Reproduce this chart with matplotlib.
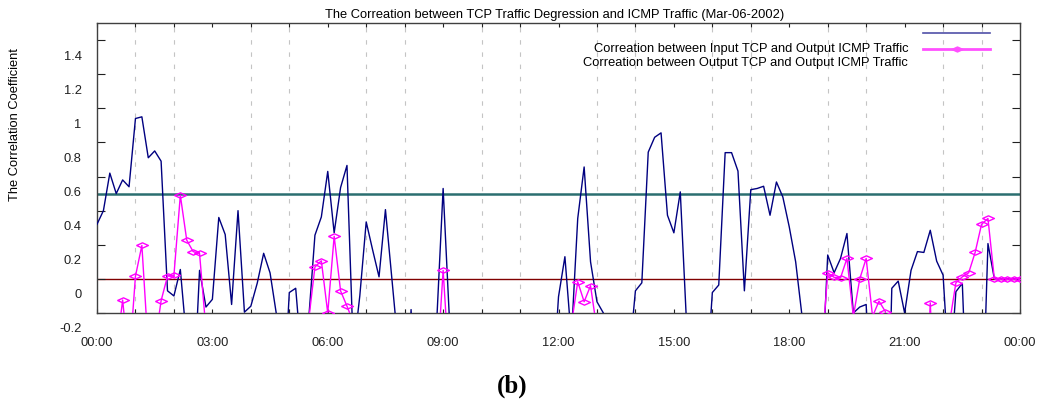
import numpy as np
import matplotlib
matplotlib.use("Agg")
import matplotlib.pyplot as plt
from matplotlib.ticker import MultipleLocator, FixedLocator
from matplotlib.transforms import ScaledTranslation

# 10-minute samples over one day (index * 10 min); values below -0.2 fall off the plot
input_tcp_icmp = [
    0.32, 0.40, 0.62, 0.50, 0.58, 0.54, 0.94, 0.95, 0.71, 0.75,
    0.69, -0.07, -0.10, 0.055, -0.37, -0.74, 0.05, -0.165, -0.12, 0.36,
    0.26, -0.15, 0.40, -0.195, -0.16, -0.025, 0.15, 0.035, -0.21, -0.79,
    -0.08, -0.055, -0.51, -0.25, 0.256, 0.363, 0.63, 0.27, 0.535, 0.665,
    -0.43, -0.10, 0.334, 0.17, 0.012, 0.406, 0.0, -0.4, -1.0, -0.18,
    -1.0, -1.0, -1.0, -0.25, 0.53, -0.25, -1.0, -1.0, -1.0, -1.0,
    -1.0, -1.0, -1.0, -1.0, -1.0, -1.0, -1.0, -1.0, -1.0, -1.0,
    -1.0, -0.70, -0.105, 0.13, -0.35, 0.354, 0.656, 0.10, -0.134, -0.2,
    -0.6, -1.0, -1.0, -0.475, -0.07, -0.023, 0.743, 0.83, 0.856, 0.373,
    0.27, 0.51, -0.28, -1.0, -1.0, -0.65, -0.08, -0.036, 0.74, 0.74,
    0.632, -0.07, 0.523, 0.53, 0.543, 0.373, 0.568, 0.48, 0.305, 0.10,
    -0.22, -1.0, -1.0, -0.67, 0.14, 0.036, 0.12, 0.266, -0.2, -0.165,
    -0.15, -1.0, -1.0, -1.5, -0.055, -0.013, -0.2, 0.05, 0.16, 0.155,
    0.285, 0.104, 0.022, -0.6, -0.075, -0.026, -1.0, -1.0, -1.0, 0.207,
    0.0, 0.0, 0.0, 0.0, 0.0,
]
output_tcp_icmp = [
    -1.0, -1.0, -1.0, -0.43, -0.124, -0.5, 0.016, 0.196, -0.41, -0.39,
    -0.128, 0.016, 0.02, 0.49, 0.227, 0.16, 0.149, -0.30, -1.0, -1.0,
    -1.0, -1.0, -1.0, -1.0, -1.0, -1.0, -1.0, -1.0, -1.0, -1.0,
    -1.0, -1.0, -1.0, -0.25, 0.07, 0.106, -0.2, 0.25, -0.07, -0.16,
    -0.255, -1.0, -1.0, -1.0, -1.0, -1.0, -1.0, -1.0, -1.0, -1.0,
    -1.0, -1.0, -1.0, -0.55, 0.05, -0.55, -1.0, -1.0, -1.0, -1.0,
    -1.0, -1.0, -1.0, -1.0, -1.0, -1.0, -1.0, -1.0, -1.0, -1.0,
    -1.0, -1.0, -1.0, -1.0, -0.27, -0.017, -0.134, -0.04, -0.3, -1.0,
    -1.0, -1.0, -1.0, -1.0, -1.0, -1.0, -1.0, -1.0, -1.0, -1.0,
    -1.0, -1.0, -1.0, -1.0, -1.0, -1.0, -1.0, -1.0, -1.0, -1.0,
    -1.0, -1.0, -1.0, -1.0, -1.0, -1.0, -1.0, -1.0, -1.0, -1.0,
    -1.0, -1.0, -1.0, -0.47, 0.036, 0.009, 0.006, 0.12, -0.22, 0.0,
    0.12, -0.22, -0.13, -0.192, -1.0, -1.0, -1.0, -1.0, -1.0, -1.0,
    -0.14, -1.0, -1.0, -0.26, -0.023, 0.012, 0.036, 0.155, 0.32, 0.354,
    0.0, 0.0, 0.0, 0.0, 0.0,
]
threshold = 0.5
x_tick_labels = ["00:00", "03:00", "06:00", "09:00", "12:00", "15:00", "18:00", "21:00", "00:00"]
y_tick_values = [-0.2, 0.0, 0.2, 0.4, 0.6, 0.8, 1.0, 1.2, 1.4]
y_tick_labels = ["-0.2", "0", "0.2", "0.4", "0.6", "0.8", "1", "1.2", "1.4"]

plt.rcParams['font.family'] = ['Liberation Sans', 'DejaVu Sans']
fs = 9.3

hours = np.arange(len(input_tcp_icmp)) / 6.0
diamond = [(-1, 0), (0, 0.45), (1, 0), (0, -0.45), (-1, 0)]

fig = plt.figure(figsize=(10.4, 4.0), dpi=100)
ax = fig.add_axes([97 / 1040, 87 / 400, 923 / 1040, 290 / 400])

ax.axhline(threshold, color='#2b6e70', linewidth=1.8, zorder=1)
ax.axhline(0, color='#800000', linewidth=1.0, zorder=1)

ax.plot(hours, input_tcp_icmp, color='#000080', linewidth=1.0, zorder=3)
ax.plot(hours, output_tcp_icmp, color='#ff00ff', linewidth=1.0, marker=diamond,
        markersize=8.5, markerfacecolor='none', markeredgecolor='#ff00ff',
        markeredgewidth=1.0, zorder=4)

ax.set_xlim(0, 24)
ax.set_ylim(-0.2, 1.5)

ax.xaxis.set_major_locator(FixedLocator(np.arange(0, 25, 3)))
ax.set_xticklabels(x_tick_labels)
ax.xaxis.set_minor_locator(MultipleLocator(1))
ax.set_yticks(y_tick_values)
ax.set_yticklabels(y_tick_labels)

ax.tick_params(axis='x', which='both', direction='in', length=3, width=0.8,
               top=True, labelsize=fs, pad=17, colors='#202020')
ax.tick_params(axis='y', which='both', direction='in', length=6, width=0.8,
               right=True, labelsize=fs, pad=11, colors='#202020')

# gnuplot puts the y labels half a step under their ticks
shift = ScaledTranslation(0, -0.15, fig.dpi_scale_trans)
for lab in ax.get_yticklabels():
    lab.set_transform(lab.get_transform() + shift)

ax.grid(True, which='minor', axis='x', color='#c4c4c4', linestyle=(0, (4, 7)), linewidth=0.8)
ax.grid(False, which='major')

for side in ax.spines.values():
    side.set_color('#404040')
    side.set_linewidth(1.0)

# legend drawn by hand, laid out as in the original
ax.plot([0.895, 0.9675], [0.9655, 0.9655], transform=ax.transAxes,
        color='#5050a8', linewidth=1.2, clip_on=False)
ax.plot([0.895, 0.9675], [0.910, 0.910], transform=ax.transAxes,
        color='#ff50ff', linewidth=2.0, clip_on=False)
ax.plot([0.9315], [0.910], transform=ax.transAxes, marker=diamond, markersize=8,
        color='#ff50ff', clip_on=False)
ax.text(0.8787, 0.910, "Correation between Input TCP and Output ICMP Traffic",
        transform=ax.transAxes, ha='right', va='center', fontsize=fs)
ax.text(0.8787, 0.862, "Correation between Output TCP and Output ICMP Traffic",
        transform=ax.transAxes, ha='right', va='center', fontsize=fs)

fig.text(555 / 1040, 1 - 15 / 400,
         "The Correation between TCP Traffic Degression and ICMP Traffic (Mar-06-2002)",
         ha='center', va='center', fontsize=fs)
fig.text(15 / 1040, 1 - 125 / 400, "The Correlation Coefficient", rotation=90,
         ha='center', va='center', fontsize=fs)
fig.text(512 / 1040, 1 - 386 / 400, "(b)", family='Liberation Serif', weight='bold',
         ha='center', va='center', fontsize=18)

fig.savefig('out.png', dpi=100)
